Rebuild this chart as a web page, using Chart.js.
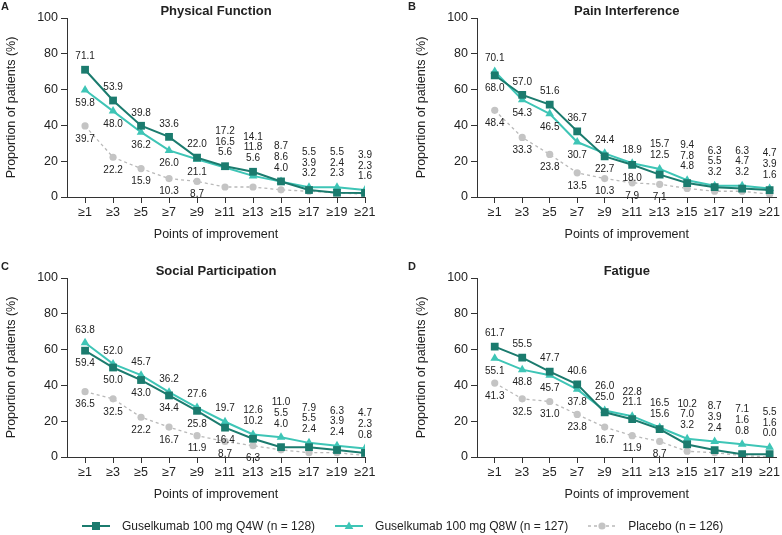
<!DOCTYPE html>
<html>
<head>
<meta charset="utf-8">
<script src="https://cdn.jsdelivr.net/npm/chart.js@4/dist/chart.umd.min.js"></script>
<style>
  body { margin: 0; background: #fff; width: 782px; height: 535px; position: relative; overflow: hidden; font-family: 'Liberation Sans', Arial, sans-serif; }
  canvas { position: absolute; }
  #legend { position: absolute; left: 82px; top: 516px; height: 20px; display: flex; align-items: center; font-size: 12px; color: #222; white-space: nowrap; }
  #legend .item { display: flex; align-items: center; margin-right: 20px; }
  #legend svg { margin-right: 12px; }
</style>
</head>
<body>
<canvas id="chartA" width="391" height="260" style="left:0;top:0"></canvas>
<canvas id="chartB" width="391" height="260" style="left:391px;top:0"></canvas>
<canvas id="chartC" width="391" height="260" style="left:0;top:260px"></canvas>
<canvas id="chartD" width="391" height="260" style="left:391px;top:260px"></canvas>
<div id="legend"></div>
<script>
// Categorías y ejes
const categories = ['≥1', '≥3', '≥5', '≥7', '≥9', '≥11', '≥13', '≥15', '≥17', '≥19', '≥21'];
const points = [1, 3, 5, 7, 9, 11, 13, 15, 17, 19, 21];
const yTicks = [0, 20, 40, 60, 80, 100];
const seriesNames = ['Guselkumab 100 mg Q4W (n = 128)', 'Guselkumab 100 mg Q8W (n = 127)', 'Placebo (n = 126)'];

// A - Physical Function
const physQ4W = [71.1, 53.9, 39.8, 33.6, 22.0, 17.2, 14.1, 8.7, 3.9, 2.4, 2.3];
const physQ8W = [59.8, 48.0, 36.2, 26.0, 21.1, 16.5, 11.8, 8.6, 5.5, 5.5, 3.9];
const physPbo = [39.7, 22.2, 15.9, 10.3, 8.7, 5.6, 5.6, 4.0, 3.2, 2.3, 1.6];

// B - Pain Interference
const painQ4W = [68.0, 57.0, 51.6, 36.7, 22.7, 18.0, 12.5, 7.8, 5.5, 4.7, 3.9];
const painQ8W = [70.1, 54.3, 46.5, 30.7, 24.4, 18.9, 15.7, 9.4, 6.3, 6.3, 4.7];
const painPbo = [48.4, 33.3, 23.8, 13.5, 10.3, 7.9, 7.1, 4.8, 3.2, 3.2, 1.6];

// C - Social Participation
const socQ4W = [59.4, 50.0, 43.0, 34.4, 25.8, 16.4, 10.2, 5.5, 5.5, 3.9, 2.3];
const socQ8W = [63.8, 52.0, 45.7, 36.2, 27.6, 19.7, 12.6, 11.0, 7.9, 6.3, 4.7];
const socPbo = [36.5, 32.5, 22.2, 16.7, 11.9, 8.7, 6.3, 4.0, 2.4, 2.4, 0.8];

// D - Fatigue
const fatQ4W = [61.7, 55.5, 47.7, 40.6, 25.0, 21.1, 15.6, 7.0, 3.9, 1.6, 1.6];
const fatQ8W = [55.1, 48.8, 45.7, 37.8, 26.0, 22.8, 16.5, 10.2, 8.7, 7.1, 5.5];
const fatPbo = [41.3, 32.5, 31.0, 23.8, 16.7, 11.9, 8.7, 3.2, 2.4, 0.8, 0.0];

const COL_Q4W = '#1b7b6e';
const COL_Q8W = '#3ec5b6';
const COL_PBO = '#b9b9b9';
const TXT = '#222';

Chart.defaults.font.family = "'Liberation Sans', Arial, sans-serif";
Chart.defaults.color = TXT;

// Título del panel y letra
const panelDecor = {
    id: 'panelDecor',
    afterDraw(chart, args, opts) {
        const ctx = chart.ctx;
        const area = chart.chartArea;
        ctx.save();
        ctx.fillStyle = TXT;
        ctx.textBaseline = 'middle';
        ctx.font = "bold 11px 'Liberation Sans', Arial, sans-serif";
        ctx.textAlign = 'left';
        ctx.fillText(opts.letter, opts.letterX, 7);
        ctx.font = "bold 13px 'Liberation Sans', Arial, sans-serif";
        ctx.textAlign = 'center';
        ctx.fillText(opts.title, (area.left + area.right) / 2, 11);
        ctx.restore();
    }
};

// Etiquetas de valores
const valueLabels = {
    id: 'valueLabels',
    afterDatasetsDraw(chart, args, opts) {
        const ctx = chart.ctx;
        ctx.save();
        ctx.fillStyle = TXT;
        ctx.font = "10px 'Liberation Sans', Arial, sans-serif";
        ctx.textAlign = 'center';
        ctx.textBaseline = 'middle';
        const n = chart.data.datasets[0].data.length;
        for (let i = 0; i < n; i++) {
            const items = chart.data.datasets.map((ds, d) => {
                const el = chart.getDatasetMeta(d).data[i];
                return { v: ds.data[i].y, x: el.x, y: el.y };
            }).sort((a, b) => b.v - a.v);
            const x = items[0].x;
            const yTop = Math.min(...items.map(it => it.y));
            if (i >= opts.stackFrom) {
                items.forEach((it, k) => ctx.fillText(it.v.toFixed(1), x, yTop - 13.5 - (2 - k) * 10.7));
            } else if (i >= opts.pairFrom) {
                ctx.fillText(items[0].v.toFixed(1), x, yTop - 13.5 - 10.7);
                ctx.fillText(items[1].v.toFixed(1), x, yTop - 13.5);
                ctx.fillText(items[2].v.toFixed(1), x, items[2].y + 13);
            } else {
                ctx.fillText(items[0].v.toFixed(1), x, items[0].y - 13);
                ctx.fillText(items[1].v.toFixed(1), x, items[1].y + 13);
                ctx.fillText(items[2].v.toFixed(1), x, items[2].y + 13);
            }
        }
        ctx.restore();
    }
};

function toXY(vals) {
    return vals.map((v, i) => ({ x: points[i], y: v }));
}

function createPanel(id, cfg) {
    const ctx = document.getElementById(id).getContext('2d');
    return new Chart(ctx, {
        type: 'line',
        data: {
            datasets: [
                {
                    label: seriesNames[0], data: toXY(cfg.q4w),
                    borderColor: COL_Q4W, backgroundColor: COL_Q4W, borderWidth: 2,
                    pointStyle: 'rect', pointRadius: 5.5, pointBorderWidth: 0
                },
                {
                    label: seriesNames[1], data: toXY(cfg.q8w),
                    borderColor: COL_Q8W, backgroundColor: COL_Q8W, borderWidth: 2,
                    pointStyle: 'triangle', pointRadius: 5, pointBorderWidth: 0
                },
                {
                    label: seriesNames[2], data: toXY(cfg.pbo),
                    borderColor: COL_PBO, backgroundColor: '#c4c4c4', borderWidth: 1.3,
                    borderDash: [3, 3], pointStyle: 'circle', pointRadius: 3.6, pointBorderWidth: 0
                }
            ]
        },
        options: {
            responsive: false,
            animation: false,
            devicePixelRatio: 1,
            layout: { padding: { top: 18, left: cfg.padLeft, right: cfg.padRight, bottom: 0 } },
            plugins: {
                legend: { display: false },
                tooltip: { enabled: false },
                panelDecor: { title: cfg.title, letter: cfg.letter, letterX: cfg.letterX },
                valueLabels: { pairFrom: cfg.pairFrom, stackFrom: cfg.stackFrom }
            },
            scales: {
                x: {
                    type: 'linear',
                    min: -0.29,
                    max: cfg.xMax,
                    afterBuildTicks: s => { s.ticks = points.map(v => ({ value: v })); },
                    afterFit: s => { s.height = 63; s.paddingLeft = 0; s.paddingRight = 0; },
                    ticks: {
                        autoSkip: false, maxRotation: 0, padding: 2,
                        font: { size: 12.5 }, color: TXT,
                        callback: v => categories[points.indexOf(v)]
                    },
                    grid: { drawOnChartArea: false, drawTicks: true, tickLength: 6, color: '#333' },
                    border: { display: true, color: '#333', width: 1 },
                    title: {
                        display: true, text: 'Points of improvement', color: TXT,
                        font: { size: 12.5 }, padding: { top: 4, bottom: 18 }
                    }
                },
                y: {
                    min: 0,
                    max: 100,
                    afterBuildTicks: s => { s.ticks = yTicks.map(v => ({ value: v })); },
                    afterFit: s => { s.width = 67; s.paddingTop = 0; s.paddingBottom = 0; },
                    ticks: { padding: 3, font: { size: 12.5 }, color: TXT },
                    grid: { drawOnChartArea: false, drawTicks: true, tickLength: 6, color: '#333' },
                    border: { display: true, color: '#333', width: 1 },
                    title: {
                        display: true, text: 'Proportion of patients (%)', color: TXT,
                        font: { size: 12.5 }, padding: { top: 4, bottom: 0 }
                    }
                }
            }
        },
        plugins: [panelDecor, valueLabels]
    });
}

// Leyenda
function renderLegend() {
    const marks = [
        `<svg width="28" height="12"><line x1="0" y1="6" x2="28" y2="6" stroke="${COL_Q4W}" stroke-width="2"/><rect x="10" y="2" width="8" height="8" fill="${COL_Q4W}"/></svg>`,
        `<svg width="28" height="12"><line x1="0" y1="6" x2="28" y2="6" stroke="${COL_Q8W}" stroke-width="2"/><polygon points="14,1.5 18.3,9 9.7,9" fill="${COL_Q8W}"/></svg>`,
        `<svg width="28" height="12"><line x1="0" y1="6" x2="28" y2="6" stroke="${COL_PBO}" stroke-width="1.3" stroke-dasharray="3,3"/><circle cx="14" cy="6" r="3.6" fill="#c4c4c4"/></svg>`
    ];
    document.getElementById('legend').innerHTML = seriesNames.map((name, i) =>
        `<div class="item">${marks[i]}<span>${name}</span></div>`).join('');
}

document.addEventListener('DOMContentLoaded', () => {
    createPanel('chartA', { title: 'Physical Function', letter: 'A', letterX: 1, padLeft: 0, padRight: 26, xMax: 21,
        q4w: physQ4W, q8w: physQ8W, pbo: physPbo, pairFrom: 5, stackFrom: 5 });
    createPanel('chartB', { title: 'Pain Interference', letter: 'B', letterX: 17, padLeft: 19, padRight: 0, xMax: 21.5,
        q4w: painQ4W, q8w: painQ8W, pbo: painPbo, pairFrom: 6, stackFrom: 7 });
    createPanel('chartC', { title: 'Social Participation', letter: 'C', letterX: 1, padLeft: 0, padRight: 26, xMax: 21,
        q4w: socQ4W, q8w: socQ8W, pbo: socPbo, pairFrom: 6, stackFrom: 7 });
    createPanel('chartD', { title: 'Fatigue', letter: 'D', letterX: 17, padLeft: 19, padRight: 0, xMax: 21.5,
        q4w: fatQ4W, q8w: fatQ8W, pbo: fatPbo, pairFrom: 4, stackFrom: 7 });
    renderLegend();
});
</script>
</body>
</html>
